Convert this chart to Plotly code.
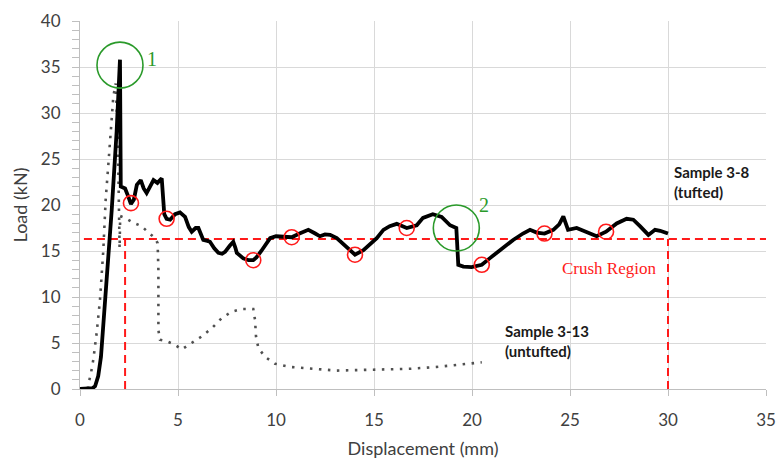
import plotly.graph_objects as go

# ---------------- data ----------------
tufted_x = [0, 0.5, 0.65, 0.77, 0.93, 1.07, 1.19, 1.31, 1.45, 1.62, 1.87, 2.04, 2.08, 2.3, 2.45, 2.6,
            2.75, 2.9, 3.1, 3.25, 3.4, 3.6, 3.75, 3.95, 4.17, 4.25, 4.3, 4.42, 4.6, 4.85, 5.1, 5.36,
            5.55, 5.7, 5.9, 6.04, 6.29, 6.5, 6.63, 6.85, 7.06, 7.25, 7.4, 7.65, 7.82, 7.92, 8.0,
            8.33, 8.6, 8.84, 9.0, 9.25, 9.52, 9.7, 10.0, 10.2, 10.55, 10.8, 11.2, 11.65, 12.0,
            12.24, 12.5, 12.76, 13.1, 13.6, 14.03, 14.46, 14.8, 15.14, 15.48, 15.8, 16.16, 16.67,
            17.18, 17.5, 18.0, 18.45, 18.88, 19.2, 19.3, 19.56, 19.98, 20.5, 20.9, 21.26, 21.6,
            22.1, 22.6, 22.96, 23.3, 23.7, 24.15, 24.45, 24.66, 24.9, 25.34, 25.85, 26.36, 26.84,
            27.38, 27.89, 28.23, 28.57, 29.0, 29.34, 29.6, 30.0]
tufted_y = [0, 0, 0.1, 0.3, 1.4, 3.5, 6.8, 10.4, 15.1, 19.5, 28.0, 35.8, 22.0, 21.8, 21.0, 20.1,
            20.6, 22.2, 22.7, 21.8, 21.3, 22.2, 22.7, 22.4, 22.9, 20.5, 19.0, 18.5, 18.4, 19.0, 19.2, 18.7,
            17.6, 17.1, 17.5, 17.5, 16.2, 16.1, 16.0, 15.3, 14.8, 14.7, 14.9, 15.6, 16.0, 15.4, 14.8,
            14.2, 14.0, 14.0, 14.3, 15.0, 15.9, 16.4, 16.6, 16.6, 16.5, 16.5, 16.9, 17.3, 16.9,
            16.6, 16.8, 16.75, 16.4, 15.5, 14.6, 15.1, 15.8, 16.4, 17.3, 17.7, 17.95, 17.5,
            17.8, 18.6, 19.0, 18.7, 17.8, 17.5, 13.5, 13.3, 13.25, 13.5, 14.2, 14.8, 15.4,
            16.2, 16.9, 17.3, 17.0, 16.9, 17.3, 17.9, 18.75, 17.3, 17.5, 17.1, 16.6, 17.1,
            18.0, 18.5, 18.4, 17.7, 16.75, 17.3, 17.2, 16.9]

untufted_x = [0.4, 0.42, 0.55, 0.68, 0.85, 1.02, 1.19, 1.31, 1.45, 1.53, 1.7, 1.82, 1.92, 1.97,
              2.0, 2.02, 2.05, 2.3, 2.7, 3.14, 3.5, 3.83, 3.96, 4.0, 4.0, 4.08, 4.42, 4.85, 5.19,
              5.7, 6.2, 6.72, 7.23, 7.74, 8.25, 8.84, 8.93, 8.98, 9.1, 9.44, 9.95, 10.7, 11.7,
              13.1, 14.97, 16.84, 18.2, 19.4, 20.5]
untufted_y = [0, 0.5, 1.6, 3.2, 6.1, 9.7, 15.1, 20.6, 24.5, 27.1, 31.8, 33.2, 28.0, 22.0,
              16.5, 15.3, 18.8, 18.6, 18.1, 17.7, 17.0, 16.4, 15.85, 12.9, 6.4, 5.35, 5.2, 4.8, 4.3,
              5.0, 5.7, 6.6, 7.7, 8.4, 8.7, 8.7, 7.5, 5.7, 4.45, 3.5, 2.75, 2.4, 2.2,
              2.0, 2.1, 2.2, 2.4, 2.65, 2.9]

red_x = [2.6, 4.42, 8.84, 10.8, 14.03, 16.67, 20.5, 23.7, 26.84]
red_y = [20.2, 18.5, 14.0, 16.5, 14.6, 17.5, 13.5, 16.9, 17.1]

green_x = [2.04, 19.2]
green_y = [35.2, 17.5]
green_labels = ["1", "2"]
green_label_x = [3.66, 20.6]
green_label_y = [35.9, 20.0]

crush_load = 16.3
crush_start = 2.3
crush_end = 30.0
crush_line_x0 = 0.2
x_max = 35

x_ticks = [0, 5, 10, 15, 20, 25, 30, 35]
y_ticks = [0, 5, 10, 15, 20, 25, 30, 35, 40]

RED = "#ff1a1a"
GREEN = "#2a9a2a"
FONT = "Lato, 'Open Sans', sans-serif"

fig = go.Figure()

# crush region dashed lines
dash_style = dict(color=RED, width=2, dash="8px,5px")
fig.add_trace(go.Scatter(x=[crush_line_x0, x_max], y=[crush_load, crush_load], mode="lines",
                         line=dash_style, hoverinfo="skip"))
fig.add_trace(go.Scatter(x=[crush_start, crush_start], y=[0, crush_load], mode="lines",
                         line=dash_style, hoverinfo="skip"))
fig.add_trace(go.Scatter(x=[crush_end, crush_end], y=[0, crush_load], mode="lines",
                         line=dash_style, hoverinfo="skip"))

# untufted dotted
fig.add_trace(go.Scatter(x=untufted_x, y=untufted_y, mode="lines",
                         line=dict(color="#505050", width=2.6, dash="2.5px,6.5px")))
# tufted solid
fig.add_trace(go.Scatter(x=tufted_x, y=tufted_y, mode="lines",
                         line=dict(color="black", width=3.8)))

# red circles
fig.add_trace(go.Scatter(x=red_x, y=red_y, mode="markers",
                         marker=dict(symbol="circle-open", size=15, color=RED,
                                     line=dict(width=1.6, color=RED))))
# green circles
fig.add_trace(go.Scatter(x=green_x, y=green_y, mode="markers",
                         marker=dict(symbol="circle-open", size=46, color=GREEN,
                                     line=dict(width=1.6, color=GREEN))))

annotations = []
for lx, ly, t in zip(green_label_x, green_label_y, green_labels):
    annotations.append(dict(x=lx, y=ly, text=t, showarrow=False,
                            font=dict(family="'Liberation Serif', serif", size=20, color=GREEN)))
annotations.append(dict(x=27.0, y=13.1, text="Crush Region", showarrow=False,
                        font=dict(family="'Liberation Serif', serif", size=17, color=RED)))
annotations.append(dict(x=30.2, y=22.5, text="<b>Sample 3-8</b><br><b>(tufted)</b>", showarrow=False,
                        xanchor="left", align="left",
                        font=dict(family=FONT, size=15, color="#1a1a1a")))
annotations.append(dict(x=21.6, y=5.2, text="<b>Sample 3-13</b><br><b>(untufted)</b>", showarrow=False,
                        xanchor="left", align="left",
                        font=dict(family=FONT, size=15, color="#1a1a1a")))

fig.update_layout(
    width=778, height=462,
    margin=dict(l=80, r=12, t=21, b=73, autoexpand=False),
    paper_bgcolor="white", plot_bgcolor="white",
    showlegend=False,
    font=dict(family=FONT, size=17, color="#404040"),
    annotations=annotations,
)
fig.update_xaxes(range=[0, x_max], tickvals=x_ticks, showgrid=True, gridcolor="#d9d9d9", gridwidth=1,
                 zeroline=False, showline=True, linecolor="#bfbfbf", linewidth=1,
                 ticks="outside", ticklen=6, tickcolor="#bfbfbf", automargin=False,
                 ticklabelstandoff=10,
                 title=dict(text="Displacement (mm)", font=dict(size=18, color="#404040"), standoff=12))
fig.update_yaxes(range=[0, 40], tickvals=y_ticks, showgrid=True, gridcolor="#d9d9d9", gridwidth=1,
                 zeroline=False, showline=True, linecolor="#bfbfbf", linewidth=1,
                 ticks="outside", ticklen=7, tickcolor="#bfbfbf", automargin=False,
                 minor=dict(dtick=1, ticks="outside", ticklen=7, tickcolor="#bfbfbf", showgrid=False),
                 ticklabelstandoff=8,
                 title=dict(text="Load (kN)", font=dict(size=18, color="#404040"), standoff=8))

fig.write_html("out.html", config={"displayModeBar": False},
               post_script="document.body.style.margin='0px';")
